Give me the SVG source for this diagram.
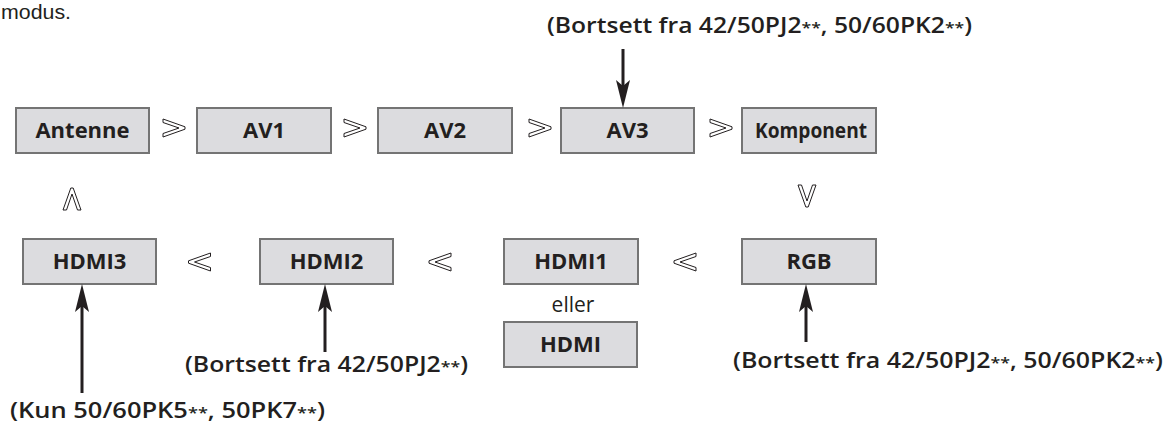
<svg xmlns="http://www.w3.org/2000/svg" xmlns:xlink="http://www.w3.org/1999/xlink" width="1170" height="425" viewBox="0 0 1170 425">
<style>
.box{fill:#dcdcdf;stroke:#747474;stroke-width:2}
.lbl{font-family:"Open Sans","Liberation Sans",sans-serif;font-weight:700;font-size:22px;fill:#231f20;text-anchor:middle}
.note{font-family:"Open Sans","Liberation Sans",sans-serif;font-weight:600;font-size:21px;fill:#231f20}
.ast{font-size:15px}
.plain{font-family:"Open Sans","Liberation Sans",sans-serif;font-weight:400;font-size:21px;fill:#231f20}
.arr{stroke:#231f20;stroke-width:3;fill:none;marker-end:url(#ah)}
.chev{fill:#fff;stroke:#231f20;stroke-width:1}
</style>
<defs>
<marker id="ah" viewBox="0 0 28 14" refX="6" refY="7" markerWidth="28" markerHeight="14" markerUnits="userSpaceOnUse" orient="auto">
<path d="M0,0 L28,7 L0,14 L6,7 z" fill="#231f20"/>
</marker>
<polygon id="chev" points="-11,-9 11,-1.2 11,1.2 -11,9 -11,5.5 5,0 -11,-5.5"/>
</defs>
<text x="1" y="19" font-family="'Liberation Sans',sans-serif" font-size="20" fill="#231f20" textLength="70" lengthAdjust="spacingAndGlyphs">modus.</text>
<g id="antenne"><rect class="box" x="16" y="108" width="133" height="45"/><text class="lbl" x="82.5" y="138">Antenne</text></g>
<g id="av1"><rect class="box" x="197" y="108" width="134" height="45"/><text class="lbl" x="264" y="138">AV1</text></g>
<g id="av2"><rect class="box" x="378" y="108" width="134" height="45"/><text class="lbl" x="445" y="138">AV2</text></g>
<g id="av3"><rect class="box" x="561" y="108" width="133" height="45"/><text class="lbl" x="627.5" y="138">AV3</text></g>
<g id="komponent"><rect class="box" x="742" y="108" width="134" height="45"/><text class="lbl" x="811" y="138" font-size="20" textLength="112" lengthAdjust="spacingAndGlyphs">Komponent</text></g>
<g id="hdmi3"><rect class="box" x="23" y="239" width="133" height="45"/><text class="lbl" x="89.5" y="269">HDMI3</text></g>
<g id="hdmi2"><rect class="box" x="260" y="239" width="133" height="45"/><text class="lbl" x="326.5" y="269">HDMI2</text></g>
<g id="hdmi1"><rect class="box" x="504" y="239" width="134" height="45"/><text class="lbl" x="571" y="269">HDMI1</text></g>
<g id="rgb"><rect class="box" x="742" y="239" width="134" height="45"/><text class="lbl" x="809" y="269">RGB</text></g>
<g id="eller"><text class="plain" x="573" y="312" text-anchor="middle">eller</text></g>
<g id="hdmi"><rect class="box" x="504" y="322" width="133" height="45"/><text class="lbl" x="570.5" y="352">HDMI</text></g>
<g id="connectors">
<use xlink:href="#chev" class="chev" transform="translate(174,128)"/>
<use xlink:href="#chev" class="chev" transform="translate(355,128)"/>
<use xlink:href="#chev" class="chev" transform="translate(540,128)"/>
<use xlink:href="#chev" class="chev" transform="translate(721,128)"/>
<use xlink:href="#chev" class="chev" transform="translate(807,196) rotate(90)"/>
<use xlink:href="#chev" class="chev" transform="translate(685,262) rotate(180)"/>
<use xlink:href="#chev" class="chev" transform="translate(440,262) rotate(180)"/>
<use xlink:href="#chev" class="chev" transform="translate(199.5,262) rotate(180)"/>
<use xlink:href="#chev" class="chev" transform="translate(72,199) rotate(-90)"/>
<path class="arr" d="M623,49 V86"/>
<path class="arr" d="M82,393 V306"/>
<path class="arr" d="M325,352 V306"/>
<path class="arr" d="M806,342 V306"/>
</g>
<g id="notes">
<text class="note" x="547" y="33" textLength="425" lengthAdjust="spacingAndGlyphs">(Bortsett fra 42/50PJ2<tspan class="ast">**</tspan>, 50/60PK2<tspan class="ast">**</tspan>)</text>
<text class="note" x="185" y="372" textLength="283" lengthAdjust="spacingAndGlyphs">(Bortsett fra 42/50PJ2<tspan class="ast">**</tspan>)</text>
<text class="note" x="733" y="368" textLength="430" lengthAdjust="spacingAndGlyphs">(Bortsett fra 42/50PJ2<tspan class="ast">**</tspan>, 50/60PK2<tspan class="ast">**</tspan>)</text>
<text class="note" x="10" y="418" textLength="315" lengthAdjust="spacingAndGlyphs">(Kun 50/60PK5<tspan class="ast">**</tspan>, 50PK7<tspan class="ast">**</tspan>)</text>
</g>
</svg>
